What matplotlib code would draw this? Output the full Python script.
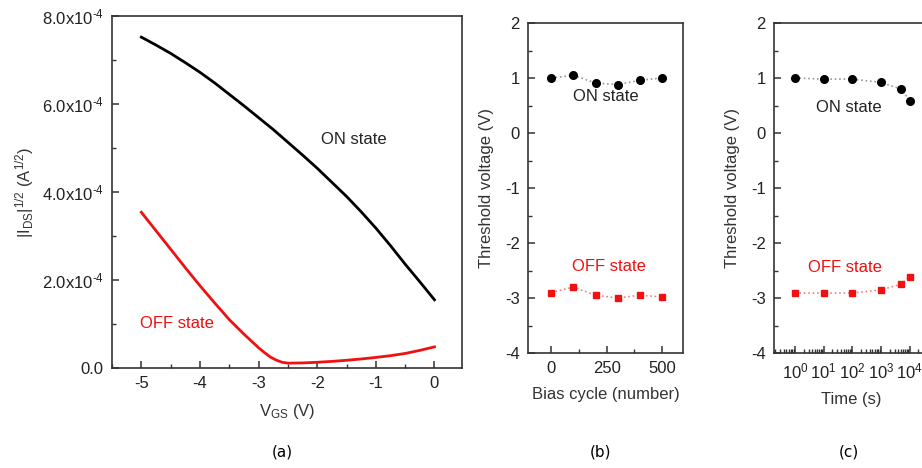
import matplotlib
matplotlib.use('Agg')
import matplotlib.pyplot as plt
from matplotlib.ticker import MultipleLocator, LogLocator, FixedLocator, NullFormatter

plt.rcParams['font.family'] = ['Liberation Sans', 'DejaVu Sans']
plt.rcParams['mathtext.fontset'] = 'custom'
plt.rcParams['mathtext.rm'] = 'Liberation Sans'
plt.rcParams['mathtext.it'] = 'Liberation Sans:italic'

# ---- panel (a): transfer curves ----
vgs_on = [-5.0, -4.75, -4.5, -4.25, -4.0, -3.75, -3.5, -3.25, -3.0, -2.75, -2.5,
          -2.25, -2.0, -1.75, -1.5, -1.25, -1.0, -0.75, -0.5, -0.25, 0.0]
i_on = [7.52e-4, 7.34e-4, 7.15e-4, 6.94e-4, 6.72e-4, 6.48e-4, 6.22e-4, 5.96e-4,
        5.69e-4, 5.42e-4, 5.13e-4, 4.84e-4, 4.54e-4, 4.22e-4, 3.90e-4, 3.55e-4,
        3.18e-4, 2.78e-4, 2.36e-4, 1.96e-4, 1.55e-4]

vgs_off = [-5.0, -4.75, -4.5, -4.25, -4.0, -3.75, -3.5, -3.25, -3.0, -2.9, -2.8,
           -2.7, -2.6, -2.5, -2.25, -2.0, -1.75, -1.5, -1.25, -1.0, -0.75, -0.5,
           -0.25, 0.0]
i_off = [3.54e-4, 3.12e-4, 2.70e-4, 2.28e-4, 1.87e-4, 1.48e-4, 1.10e-4, 0.77e-4,
         0.46e-4, 0.35e-4, 0.25e-4, 0.18e-4, 0.13e-4, 0.11e-4, 0.115e-4, 0.13e-4,
         0.15e-4, 0.175e-4, 0.205e-4, 0.24e-4, 0.28e-4, 0.33e-4, 0.40e-4, 0.48e-4]

# ---- panel (b): threshold vs bias cycle ----
cycles = [0, 100, 200, 300, 400, 500]
vth_on_cycle = [1.0, 1.05, 0.91, 0.88, 0.96, 1.0]
vth_off_cycle = [-2.9, -2.8, -2.95, -3.0, -2.95, -2.98]

# ---- panel (c): threshold vs retention time ----
times = [1, 10, 100, 1000, 5000, 10000]
vth_on_time = [1.0, 0.98, 0.98, 0.92, 0.80, 0.59]
vth_off_time = [-2.91, -2.91, -2.91, -2.85, -2.75, -2.61]

a_yticks = [0, 2e-4, 4e-4, 6e-4, 8e-4]
a_yticklabels = ['0.0', r'2.0x10$^{\text{-4}}$', r'4.0x10$^{\text{-4}}$',
                 r'6.0x10$^{\text{-4}}$', r'8.0x10$^{\text{-4}}$']

RED = '#f01010'
FS = 12

fig = plt.figure(figsize=(9.22, 4.68), dpi=100)
ax_a = fig.add_axes([0.1215, 0.2137, 0.3796, 0.7521])
ax_b = fig.add_axes([0.5727, 0.2457, 0.1681, 0.7051])
ax_c = fig.add_axes([0.8395, 0.2457, 0.1681, 0.7051])


def style(ax):
    for s in ax.spines.values():
        s.set_linewidth(1.2)
        s.set_color('#333333')
    ax.tick_params(which='both', direction='in', top=False, right=False,
                   labelsize=FS, colors='#333333', pad=6)
    ax.tick_params(which='major', length=5, width=1.1)
    ax.tick_params(which='minor', length=3, width=1.0)
    for lab in ax.get_xticklabels() + ax.get_yticklabels():
        lab.set_color('#222222')


# (a)
ax_a.plot(vgs_on, i_on, color='black', lw=2)
ax_a.plot(vgs_off, i_off, color=RED, lw=2)
ax_a.set_xlim(-5.5, 0.47)
ax_a.set_ylim(0, 8e-4)
ax_a.set_xticks([-5, -4, -3, -2, -1, 0])
ax_a.set_xticklabels(['-5', '-4', '-3', '-2', '-1', '0'])
ax_a.xaxis.set_minor_locator(MultipleLocator(0.5))
ax_a.set_yticks(a_yticks)
ax_a.set_yticklabels(a_yticklabels)
ax_a.yaxis.set_minor_locator(MultipleLocator(1e-4))
ax_a.set_xlabel(r'V$_{\mathregular{GS}}$ (V)', fontsize=FS, color='#333333', labelpad=8)
ax_a.set_ylabel(r'|I$_{\mathregular{DS}}$|$^{\mathregular{1/2}}$ (A$^{\mathregular{1/2}}$)',
                fontsize=FS, color='#333333', labelpad=4)
ax_a.text(-1.38, 5.2e-4, 'ON state', fontsize=FS, color='#222222', ha='center', va='center')
ax_a.text(-4.39, 1.0e-4, 'OFF state', fontsize=FS, color=RED, ha='center', va='center')
style(ax_a)

# (b)
ax_b.plot(cycles, vth_on_cycle, color='#999999', ls=':', lw=1.2,
          marker='o', ms=5.5, mfc='black', mec='black')
ax_b.plot(cycles, vth_off_cycle, color='#f08080', ls=':', lw=1.2,
          marker='s', ms=4.8, mfc=RED, mec=RED)
ax_b.set_xlim(-104, 594)
ax_b.set_ylim(-4, 2)
ax_b.set_xticks([0, 250, 500])
ax_b.xaxis.set_minor_locator(MultipleLocator(125))
ax_b.set_yticks([-4, -3, -2, -1, 0, 1, 2])
ax_b.set_yticklabels(['-4', '-3', '-2', '-1', '0', '1', '2'])
ax_b.yaxis.set_minor_locator(MultipleLocator(0.5))
ax_b.set_xlabel('Bias cycle (number)', fontsize=FS, color='#333333', labelpad=8)
ax_b.set_ylabel('Threshold voltage (V)', fontsize=FS, color='#333333', labelpad=8)
ax_b.text(246, 0.67, 'ON state', fontsize=FS, color='#222222', ha='center', va='center')
ax_b.text(261, -2.42, 'OFF state', fontsize=FS, color=RED, ha='center', va='center')
style(ax_b)

# (c)
ax_c.plot(times, vth_on_time, color='#999999', ls=':', lw=1.2,
          marker='o', ms=5.5, mfc='black', mec='black')
ax_c.plot(times, vth_off_time, color='#f08080', ls=':', lw=1.2,
          marker='s', ms=4.8, mfc=RED, mec=RED)
ax_c.set_xscale('log')
ax_c.set_xlim(10 ** -0.73, 10 ** 4.67)
ax_c.set_ylim(-4, 2)
ax_c.xaxis.set_major_locator(FixedLocator([1, 10, 100, 1000, 10000]))
ax_c.xaxis.set_minor_locator(LogLocator(base=10, subs=range(2, 10), numticks=20))
ax_c.xaxis.set_minor_formatter(NullFormatter())
ax_c.set_xticklabels([r'10$^{\mathregular{0}}$', r'10$^{\mathregular{1}}$', r'10$^{\mathregular{2}}$',
                      r'10$^{\mathregular{3}}$', r'10$^{\mathregular{4}}$'])
ax_c.set_yticks([-4, -3, -2, -1, 0, 1, 2])
ax_c.set_yticklabels(['-4', '-3', '-2', '-1', '0', '1', '2'])
ax_c.yaxis.set_minor_locator(MultipleLocator(0.5))
ax_c.set_xlabel('Time (s)', fontsize=FS, color='#333333', labelpad=8)
ax_c.set_ylabel('Threshold voltage (V)', fontsize=FS, color='#333333', labelpad=8)
ax_c.text(76, 0.47, 'ON state', fontsize=FS, color='#222222', ha='center', va='center')
ax_c.text(55, -2.44, 'OFF state', fontsize=FS, color=RED, ha='center', va='center')
style(ax_c)

# panel letters
for xpos, letter in [(282, '(a)'), (600, '(b)'), (849, '(c)')]:
    fig.text(xpos / 922, 1 - 452 / 468, letter, fontsize=11, family='DejaVu Sans',
             ha='center', va='center', color='black')

fig.savefig('out.png', dpi=100)
